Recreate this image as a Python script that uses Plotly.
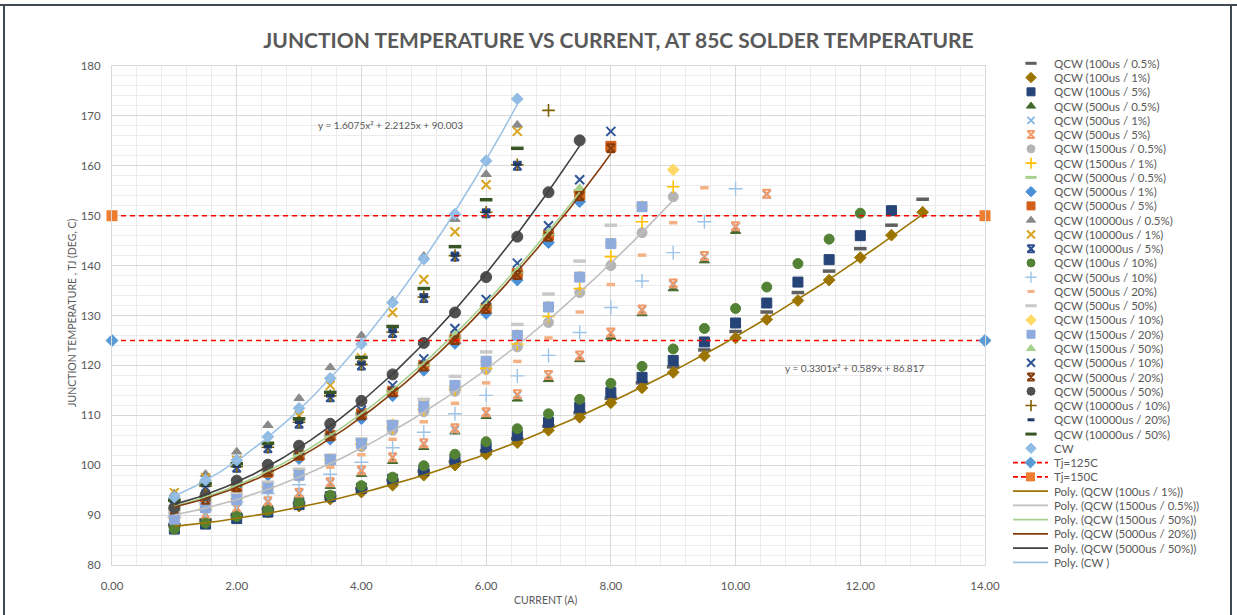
import numpy as np
import plotly.graph_objects as go

# ---------------------------------------------------------------- data
CURRENT = [1.0, 1.5, 2.0, 2.5, 3.0, 3.5, 4.0, 4.5, 5.0, 5.5, 6.0, 6.5, 7.0,
           7.5, 8.0, 8.5, 9.0, 9.5, 10.0, 10.5, 11.0, 11.5, 12.0, 12.5, 13.0]

qcw_100us_05 = [88.1, 89.0, 90.0, 91.1, 92.4, 93.8, 95.3, 97.0, 98.8, 100.7, 102.9, 105.3, 107.8,
                110.5, 113.4, 116.5, 119.7, 123.1, 126.8, 130.7, 134.6, 138.9, 143.4, 148.1, 153.3]
qcw_100us_1 = [87.6, 88.6, 89.6, 90.6, 91.8, 93.2, 94.6, 96.0, 98.0, 100.0, 102.2, 104.5, 107.0,
               109.6, 112.5, 115.5, 118.6, 121.9, 125.5, 129.2, 133.0, 137.1, 141.6, 146.1, 150.7]
qcw_100us_5 = [87.2, 88.2, 89.3, 90.6, 92.1, 93.7, 95.4, 97.2, 99.0, 101.2, 103.5, 105.9, 108.6,
               111.6, 114.6, 117.6, 121.0, 124.7, 128.5, 132.5, 136.7, 141.2, 146.0, 151.0]
qcw_500us_05 = [88.4, 89.6, 90.8, 92.1, 93.8, 95.8, 98.2, 100.8, 103.6, 106.7, 109.8, 113.3, 117.2,
                121.2, 125.7, 130.4, 135.4, 141.0, 146.9]
qcw_500us_1 = [88.8, 90.0, 91.3, 92.6, 94.3, 96.4, 98.8, 101.5, 104.2, 107.0, 110.4, 114.0, 118.0,
               121.9, 126.5, 131.0, 136.2, 141.7, 147.7, 154.2]
qcw_500us_5 = [89.0, 90.2, 91.5, 92.8, 94.5, 96.6, 99.0, 101.6, 104.4, 107.4, 110.6, 114.2, 118.1,
               122.0, 126.6, 131.2, 136.4, 141.9, 147.9, 154.4]
qcw_1500us_05 = [89.8, 91.3, 93.0, 95.2, 97.8, 100.6, 103.7, 107.0, 110.7, 114.8, 119.2, 123.7, 128.6,
                 134.6, 140.0, 146.6, 153.8]
qcw_1500us_1 = [89.5, 91.3, 93.3, 95.6, 98.2, 101.1, 104.2, 107.5, 111.2, 115.2, 119.4, 124.3, 129.8,
                135.4, 141.8, 148.8, 155.8]
qcw_5000us_05 = [91.3, 93.3, 95.8, 98.8, 102.2, 106.0, 110.3, 115.0, 120.1, 125.7, 131.8, 138.6, 146.2,
                 154.9]
qcw_5000us_1 = [90.5, 92.6, 95.0, 98.0, 101.3, 105.2, 109.3, 113.9, 119.0, 124.4, 130.4, 137.1, 144.6,
                152.8]
qcw_5000us_5 = [90.9, 93.0, 95.6, 98.6, 102.0, 106.0, 110.3, 114.8, 120.0, 125.3, 131.5, 138.4, 146.1,
                154.2, 163.9]
qcw_10000us_05 = [94.3, 98.2, 102.7, 108.0, 113.4, 119.6, 126.0, 133.0, 141.9, 149.3, 158.3, 168.2]
qcw_10000us_1 = [94.5, 97.5, 101.0, 104.9, 109.9, 116.0, 121.5, 130.6, 137.2, 146.8, 156.2, 166.9]
qcw_10000us_5 = [92.6, 95.6, 99.5, 103.4, 108.3, 113.6, 120.0, 126.5, 133.5, 141.8, 150.5, 160.0]
qcw_100us_10 = [87.2, 88.4, 89.7, 90.9, 92.4, 94.0, 95.9, 97.6, 99.9, 102.2, 104.7, 107.3, 110.3,
                113.2, 116.4, 119.8, 123.3, 127.4, 131.4, 135.7, 140.4, 145.3, 150.5]
qcw_500us_10 = [89.6, 91.0, 92.6, 94.3, 96.1, 98.2, 100.6, 103.5, 106.6, 110.3, 114.0, 117.9, 122.0,
                126.6, 131.6, 136.9, 142.6, 148.8, 155.4]
qcw_500us_20 = [90.0, 91.6, 93.3, 95.2, 97.3, 99.6, 102.1, 105.2, 108.7, 112.4, 116.5, 120.8, 125.5,
                130.7, 136.2, 142.1, 148.6, 155.6]
qcw_500us_50 = [90.5, 92.3, 94.3, 96.6, 99.2, 102.0, 105.2, 108.7, 113.2, 117.8, 122.7, 128.2, 134.3,
                140.9, 148.1]
qcw_1500us_10 = [89.3, 91.6, 93.2, 95.5, 98.1, 101.2, 104.5, 108.2, 112.0, 115.8, 120.8, 126.1, 131.8,
                 137.8, 144.5, 151.9, 159.2]
qcw_1500us_20 = [89.2, 91.5, 93.1, 95.4, 98.0, 101.1, 104.4, 108.0, 111.8, 116.0, 120.8, 126.0, 131.7,
                 137.7, 144.4, 151.8]
qcw_1500us_50 = [91.5, 93.5, 96.0, 99.0, 102.4, 106.2, 110.5, 115.3, 120.4, 126.1, 132.2, 139.0, 146.6,
                 155.5]
qcw_5000us_10 = [91.8, 93.8, 96.5, 99.6, 103.1, 106.9, 111.0, 116.0, 121.3, 127.4, 133.2, 140.5, 148.0,
                 157.2, 166.9]
qcw_5000us_20 = [91.1, 93.1, 95.6, 98.7, 102.0, 105.8, 110.0, 114.6, 119.8, 125.1, 131.3, 138.1, 145.8,
                 153.9, 163.5]
qcw_5000us_50 = [91.5, 94.0, 96.9, 100.1, 103.9, 108.3, 112.9, 118.2, 124.5, 130.6, 137.7, 145.8, 154.7,
                 165.1]
qcw_10000us_10 = [92.9, 95.8, 99.7, 103.6, 108.6, 113.9, 120.2, 126.7, 133.7, 142.0, 150.7, 160.2, 171.1]
qcw_10000us_20 = [92.8, 95.9, 99.8, 103.7, 108.6, 113.9, 120.3, 126.8, 133.8, 142.1, 150.8, 160.3]
qcw_10000us_50 = [93.0, 96.3, 100.3, 104.4, 109.3, 114.6, 121.6, 127.8, 135.4, 143.8, 153.2, 163.5]
cw = [93.6, 97.0, 101.0, 105.7, 111.4, 117.4, 124.3, 132.6, 141.3, 150.3, 161.0, 173.4]

LIMIT_X = [0.0, 14.0]
TJ_125 = [125, 125]
TJ_150 = [150, 150]

# quadratic trendline coefficients (a, b, c) printed on the chart
CW_FIT = [1.6075, 2.2125, 90.003]
QCW_100US_1_FIT = [0.3301, 0.589, 86.817]

X_TICKS = [0, 2, 4, 6, 8, 10, 12, 14]
Y_TICKS = [80, 90, 100, 110, 120, 130, 140, 150, 160, 170, 180]

# ---------------------------------------------------------------- styling
GREY_TXT = "#595959"
FONT = "Lato"

# (name, values, symbol, colour, size, outline width)
SERIES = [
    ("QCW (100us / 0.5%)", qcw_100us_05, "line-ew-open", "#5f5f5f", 9, 3.5),
    ("QCW (100us / 1%)", qcw_100us_1, "diamond", "#9c7400", 9, 1),
    ("QCW (100us / 5%)", qcw_100us_5, "square", "#264478", 10, 1),
    ("QCW (500us / 0.5%)", qcw_500us_05, "triangle-up", "#43682b", 9, 1),
    ("QCW (500us / 1%)", qcw_500us_1, "x-thin-open", "#7fb2e5", 8, 1.6),
    ("QCW (500us / 5%)", qcw_500us_5, "hourglass-open", "#f19a6a", 8, 2),
    ("QCW (1500us / 0.5%)", qcw_1500us_05, "circle", "#b4b4b4", 10, 1),
    ("QCW (1500us / 1%)", qcw_1500us_1, "cross-thin-open", "#ffc000", 9, 1.6),
    ("QCW (5000us / 0.5%)", qcw_5000us_05, "line-ew-open", "#a9d18e", 9, 3.5),
    ("QCW (5000us / 1%)", qcw_5000us_1, "diamond", "#4a8fd8", 9, 1),
    ("QCW (5000us / 5%)", qcw_5000us_5, "square", "#d2601a", 10, 1),
    ("QCW (10000us / 0.5%)", qcw_10000us_05, "triangle-up", "#8a8a8a", 9, 1),
    ("QCW (10000us / 1%)", qcw_10000us_1, "x-thin-open", "#d8a420", 9, 2),
    ("QCW (10000us / 5%)", qcw_10000us_5, "hourglass-open", "#2f4f8f", 8, 2),
    ("QCW (100us / 10%)", qcw_100us_10, "circle", "#548235", 10, 1),
    ("QCW (500us / 10%)", qcw_500us_10, "cross-thin-open", "#9dc3e6", 10, 1.4),
    ("QCW (500us / 20%)", qcw_500us_20, "line-ew-open", "#f4b183", 6, 3.5),
    ("QCW (500us / 50%)", qcw_500us_50, "line-ew-open", "#c9c9c9", 9, 3.5),
    ("QCW (1500us / 10%)", qcw_1500us_10, "diamond", "#ffd966", 9, 1),
    ("QCW (1500us / 20%)", qcw_1500us_20, "square", "#8faadc", 10, 1),
    ("QCW (1500us / 50%)", qcw_1500us_50, "triangle-up", "#a9d18e", 9, 1),
    ("QCW (5000us / 10%)", qcw_5000us_10, "x-thin-open", "#2f5597", 9, 2),
    ("QCW (5000us / 20%)", qcw_5000us_20, "hourglass-open", "#843c0c", 8, 2),
    ("QCW (5000us / 50%)", qcw_5000us_50, "circle", "#505050", 11, 1),
    ("QCW (10000us / 10%)", qcw_10000us_10, "cross-thin-open", "#7f6000", 9, 1.6),
    ("QCW (10000us / 20%)", qcw_10000us_20, "line-ew-open", "#1f3864", 6, 3.5),
    ("QCW (10000us / 50%)", qcw_10000us_50, "line-ew-open", "#375623", 9, 3.5),
    ("CW", cw, "diamond", "#8fbbe4", 9, 1),
]

# trendline name, source series, colour, fixed coefficients (or None -> fitted)
TRENDS = [
    ("Poly. (QCW (100us / 1%))", qcw_100us_1, "#9c7400", QCW_100US_1_FIT),
    ("Poly. (QCW (1500us / 0.5%))", qcw_1500us_05, "#bfbfbf", None),
    ("Poly. (QCW (1500us / 50%))", qcw_1500us_50, "#a9d18e", None),
    ("Poly. (QCW (5000us / 20%))", qcw_5000us_20, "#843c0c", None),
    ("Poly. (QCW (5000us / 50%))", qcw_5000us_50, "#404040", None),
    ("Poly. (CW )", cw, "#9dc3e6", CW_FIT),
]

# ---------------------------------------------------------------- geometry (page pixels)
W, H = 1237, 615
L, T, B = 112, 30, 50          # margins around the drawing area
PLOT_TOP = 66                   # top of the data area
PW, PH = W - L, H - T - B
MAIN_RIGHT = 985
main_xfrac = (MAIN_RIGHT - L) / PW
main_yfrac = (H - B - PLOT_TOP) / PH


def paper_x(p):
    return (p - L) / PW


def paper_y(p):
    return (H - B - p) / PH


fig = go.Figure()

for name, ys, sym, col, size, lw in SERIES:
    fig.add_trace(go.Scatter(
        x=CURRENT[:len(ys)], y=ys, mode="markers", name=name, showlegend=False,
        marker=dict(symbol=sym, color=col, size=size, line=dict(color=col, width=lw)),
        cliponaxis=False,
    ))

fig.add_trace(go.Scatter(
    x=LIMIT_X, y=TJ_125, mode="lines+markers", name="Tj=125C", showlegend=False,
    line=dict(color="#ff0000", width=1.6, dash="5px,4px"),
    marker=dict(symbol="diamond", color="#5b9bd5", size=10), cliponaxis=False,
))
fig.add_trace(go.Scatter(
    x=LIMIT_X, y=TJ_150, mode="lines+markers", name="Tj=150C", showlegend=False,
    line=dict(color="#ff0000", width=1.6, dash="5px,4px"),
    marker=dict(symbol="square", color="#ed7d31", size=11), cliponaxis=False,
))

for name, ys, col, coef in TRENDS:
    xs = np.array(CURRENT[:len(ys)])
    if coef is None:
        coef = np.polyfit(xs, np.array(ys), 2)
    xf = np.linspace(xs.min(), xs.max(), 120)
    fig.add_trace(go.Scatter(
        x=xf, y=np.polyval(coef, xf), mode="lines", name=name, showlegend=False,
        line=dict(color=col, width=1.6), hoverinfo="skip",
    ))


def eq_text(c):
    return f"y = {c[0]:g}x² + {c[1]:g}x + {c[2]:g}"


annotations = [
    dict(x=4.47, y=168.2, xref="x", yref="y", text=eq_text(CW_FIT), showarrow=False,
         font=dict(family=FONT, size=10, color=GREY_TXT)),
    dict(x=11.9, y=119.5, xref="x", yref="y", text=eq_text(QCW_100US_1_FIT), showarrow=False,
         font=dict(family=FONT, size=10, color=GREY_TXT)),
    dict(x=paper_x(72), y=paper_y(313), xref="paper", yref="paper",
         xanchor="center", yanchor="middle",
         text="JUNCTION TEMPERATURE , TJ (DEG, C)", textangle=-90, showarrow=False,
         font=dict(family=FONT, size=10.5, color=GREY_TXT)),
    dict(x=paper_x(545), y=paper_y(600), xref="paper", yref="paper",
         xanchor="center", yanchor="middle",
         text="CURRENT (A)", showarrow=False,
         font=dict(family=FONT, size=10.5, color=GREY_TXT)),
]

# ---------------------------------------------------------------- legend (drawn on its own axes)
LEG_Y0, LEG_DY = 63.3, 14.26
LEG_MARK_X, LEG_TEXT_X = 1031, 1052
LEG_FONT = dict(family=FONT, size=11.5, color=GREY_TXT)
row = 0
for name, ys, sym, col, size, lw in SERIES:
    yy = LEG_Y0 + row * LEG_DY
    fig.add_trace(go.Scatter(
        x=[LEG_MARK_X], y=[yy], xaxis="x2", yaxis="y2", mode="markers", showlegend=False,
        marker=dict(symbol=sym, color=col, size=min(size, 9) - 1,
                    line=dict(color=col, width=min(lw, 3))),
        cliponaxis=False, hoverinfo="skip",
    ))
    annotations.append(dict(x=LEG_TEXT_X, y=yy, xref="x2", yref="y2", text=name, showarrow=False,
                            xanchor="left", font=LEG_FONT))
    row += 1

for name, sym, mcol in [("Tj=125C", "diamond", "#5b9bd5"), ("Tj=150C", "square", "#ed7d31")]:
    yy = LEG_Y0 + row * LEG_DY
    fig.add_trace(go.Scatter(
        x=[1013, 1048], y=[yy, yy], xaxis="x2", yaxis="y2", mode="lines", showlegend=False,
        line=dict(color="#ff0000", width=1.6, dash="5px,3px"), cliponaxis=False, hoverinfo="skip",
    ))
    fig.add_trace(go.Scatter(
        x=[1030.5], y=[yy], xaxis="x2", yaxis="y2", mode="markers", showlegend=False,
        marker=dict(symbol=sym, color=mcol, size=9), cliponaxis=False, hoverinfo="skip",
    ))
    annotations.append(dict(x=LEG_TEXT_X, y=yy, xref="x2", yref="y2", text=name, showarrow=False,
                            xanchor="left", font=LEG_FONT))
    row += 1

for name, ys, col, coef in TRENDS:
    yy = LEG_Y0 + row * LEG_DY
    fig.add_trace(go.Scatter(
        x=[1013, 1048], y=[yy, yy], xaxis="x2", yaxis="y2", mode="lines", showlegend=False,
        line=dict(color=col, width=1.8), cliponaxis=False, hoverinfo="skip",
    ))
    annotations.append(dict(x=LEG_TEXT_X, y=yy, xref="x2", yref="y2", text=name, showarrow=False,
                            xanchor="left", font=LEG_FONT))
    row += 1

# outer chart frame
FRAME = dict(color="#3f4a55", width=2)
shapes = [
    dict(type="line", xref="paper", yref="paper", x0=paper_x(0), x1=paper_x(W),
         y0=paper_y(5), y1=paper_y(5), line=FRAME),
    dict(type="line", xref="paper", yref="paper", x0=paper_x(4), x1=paper_x(4),
         y0=paper_y(5), y1=paper_y(H + 5), line=FRAME),
    dict(type="line", xref="paper", yref="paper", x0=paper_x(1231), x1=paper_x(1231),
         y0=paper_y(5), y1=paper_y(H + 5), line=FRAME),
]

axis_common = dict(
    showgrid=True, gridcolor="#d9d9d9", gridwidth=1, zeroline=False,
    showline=True, linecolor="#d9d9d9", linewidth=1, mirror=True, ticks="",
    tickfont=dict(family=FONT, size=11.5, color=GREY_TXT),
)

fig.update_layout(
    margin=dict(l=L, r=0, t=T, b=B, autoexpand=False),
    paper_bgcolor="white", plot_bgcolor="white",
    showlegend=False,
    title=dict(text="<b>JUNCTION TEMPERATURE VS CURRENT, AT 85C SOLDER TEMPERATURE</b>",
               x=0.5, xref="container", xanchor="center",
               y=1 - 41 / H, yref="container", yanchor="middle",
               font=dict(family=FONT, size=21, color=GREY_TXT)),
    xaxis=dict(domain=[0, main_xfrac], range=[0, 14], tickvals=X_TICKS, tickformat=".2f",
               ticklabelstandoff=10,
               minor=dict(dtick=0.4, showgrid=True, gridcolor="#ececec"), **axis_common),
    yaxis=dict(domain=[0, main_yfrac], range=[80, 180], tickvals=Y_TICKS, ticklabelstandoff=8,
               minor=dict(dtick=2, showgrid=True, gridcolor="#ececec"), **axis_common),
    xaxis2=dict(domain=[main_xfrac, 1], range=[MAIN_RIGHT, W], visible=False, anchor="y2"),
    yaxis2=dict(domain=[0, 1], range=[H - B, T], visible=False, anchor="x2"),
    annotations=annotations,
    shapes=shapes,
)

fig.write_html("out.html")
